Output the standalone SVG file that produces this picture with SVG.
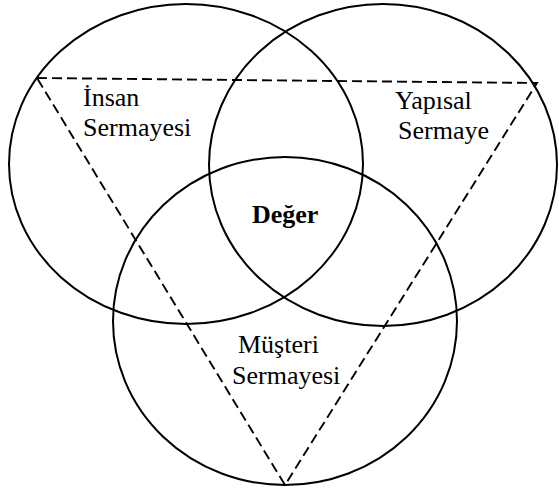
<svg xmlns="http://www.w3.org/2000/svg" width="559" height="491" viewBox="0 0 559 491">
  <style>
    .ring { fill: none; stroke: #000; stroke-width: 2; }
    .tri { fill: none; stroke: #000; stroke-width: 1.9; stroke-dasharray: 10 5; }
    .lbl { font-family: 'Liberation Serif', 'DejaVu Serif', serif; font-size: 26px; fill: #000; }
    .core { font-weight: bold; }
  </style>
  <rect width="559" height="491" fill="#fff"/>
  <!-- dashed triangle linking the three capitals -->
  <g id="connectors">
    <polygon class="tri" points="37,78 537,83 285,485"/>
  </g>
  <g id="insan">
    <ellipse class="ring" cx="186" cy="164" rx="177" ry="160"/>
    <text class="lbl" x="83" y="106">İnsan</text>
    <text class="lbl" x="83" y="136">Sermayesi</text>
  </g>
  <g id="yapisal">
    <ellipse class="ring" cx="383" cy="165" rx="174" ry="161"/>
    <text class="lbl" x="395" y="109">Yapısal</text>
    <text class="lbl" x="398" y="139">Sermaye</text>
  </g>
  <g id="musteri">
    <ellipse class="ring" cx="285" cy="321" rx="172" ry="164"/>
    <text class="lbl" x="238" y="353">Müşteri</text>
    <text class="lbl" x="232" y="384">Sermayesi</text>
  </g>
  <g id="deger">
    <text class="lbl core" x="252" y="223">Değer</text>
  </g>
</svg>
